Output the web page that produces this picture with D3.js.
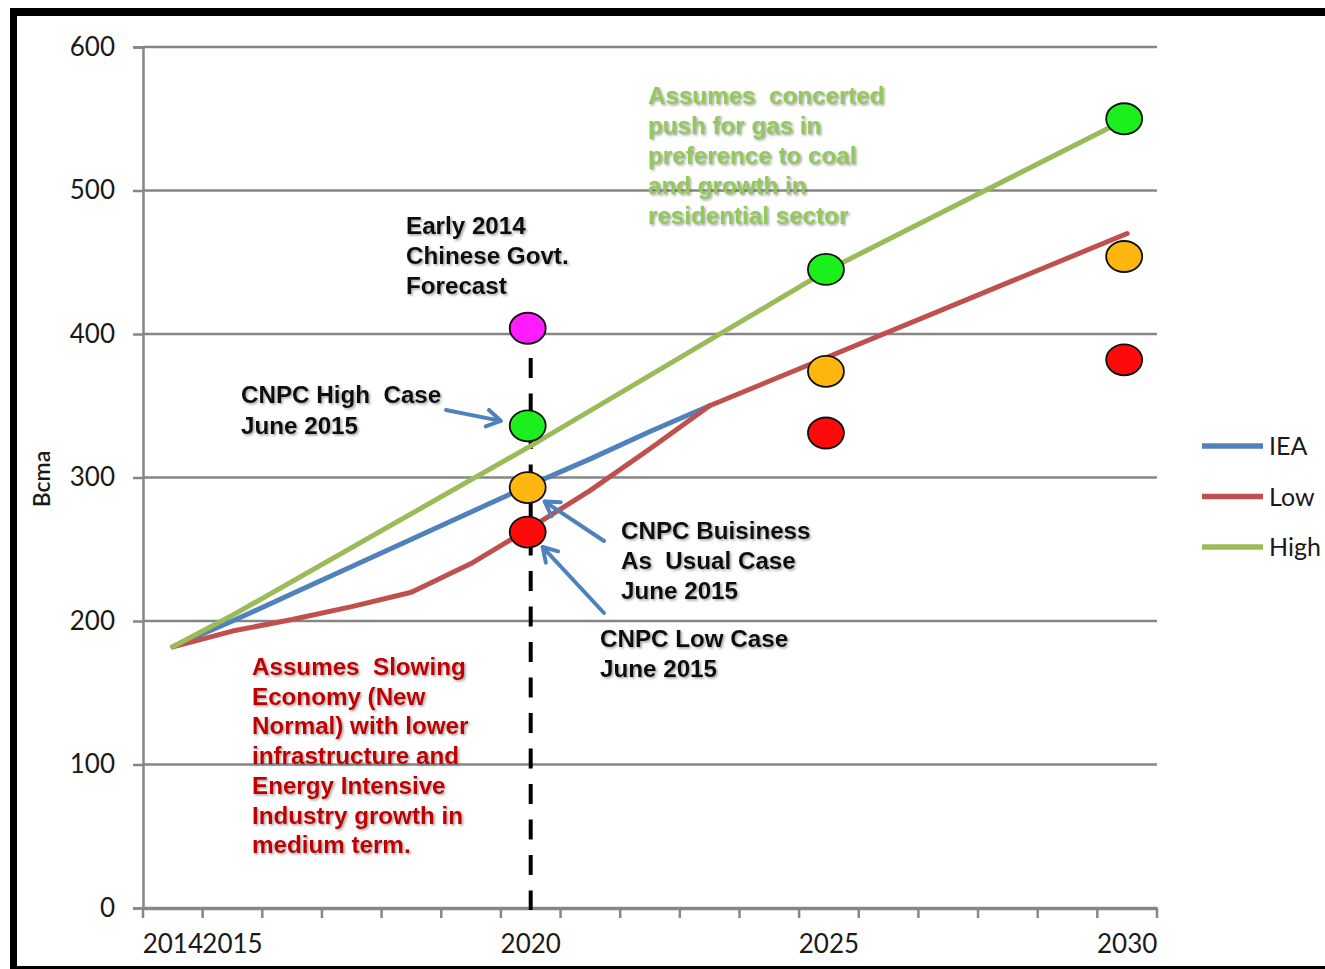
<!DOCTYPE html>
<html>
<head>
<meta charset="utf-8">
<script src="https://cdn.jsdelivr.net/npm/d3@7"></script>
<style>
  html, body { margin: 0; padding: 0; background: #fff; }
  svg { display: block; }
</style>
</head>
<body>
<svg id="chart" width="1325" height="969"></svg>
<script>
// ---------- data ----------
const years = d3.range(2014, 2031);               // category axis 2014..2030
const labelledYears = [2014, 2015, 2020, 2025, 2030];
const yTicks = [0, 100, 200, 300, 400, 500, 600];

// line series (vertices)
const ieaYears  = [2014, 2015, 2016, 2017, 2018, 2019, 2020, 2021, 2022, 2023];
const ieaValues = [182, 200, 219, 238, 257, 276, 295, 313, 332, 350];
const lowYears  = [2014, 2015, 2016, 2017, 2018, 2019, 2020, 2021, 2022, 2023, 2030];
const lowValues = [182, 193, 201, 210, 220, 240, 265, 291, 320, 350, 470];
const highYears  = [2014, 2015, 2020, 2025, 2030];
const highValues = [182, 204, 322, 445, 550];

// forecast points
const pointYears   = [2020, 2025, 2030];
const cnpcHigh     = [336, 445, 550];
const cnpcBAU      = [293, 374, 454];
const cnpcLow      = [262, 331, 382];
const govtYear     = [2020];
const govtForecast = [404];

const seriesNames  = ["IEA", "Low", "High"];
const seriesColors = ["#4f81bd", "#c0504d", "#9bbb59"];

// ---------- layout ----------
const svg = d3.select("#chart");
const W = 1325, H = 969;
const pLeft = 143, pRight = 1157, pTop = 47, pBottom = 908;

const x = d3.scaleBand().domain(years).range([pLeft, pRight]).paddingInner(0).paddingOuter(0);
const xc = d => x(d) + x.bandwidth() / 2;
const y = d3.scaleLinear().domain([0, 600]).range([pBottom, pTop]);

const defs = svg.append("defs");
const sh = defs.append("filter").attr("id", "shadow").attr("x", "-10%").attr("y", "-10%").attr("width", "120%").attr("height", "130%");
sh.append("feDropShadow").attr("dx", 1.5).attr("dy", 1.5).attr("stdDeviation", 1.2)
  .attr("flood-color", "#555").attr("flood-opacity", 0.55);

// frame
svg.append("rect").attr("x", 10).attr("y", 8).attr("width", W - 10).attr("height", 8).attr("fill", "#000");
svg.append("rect").attr("x", 10).attr("y", 8).attr("width", 7).attr("height", H - 8).attr("fill", "#000");
svg.append("rect").attr("x", 10).attr("y", 966).attr("width", W - 10).attr("height", 3).attr("fill", "#000");

// gridlines + y axis
const yAxis = d3.axisLeft(y).tickValues(yTicks).tickSize(10).tickPadding(18).tickFormat(d3.format("d"));
const gy = svg.append("g").attr("transform", `translate(${pLeft},0)`).call(yAxis);
gy.select(".domain").attr("stroke", "#868686").attr("stroke-width", 2.5);
gy.selectAll(".tick line").attr("stroke", "#868686").attr("stroke-width", 2.5);
gy.selectAll(".tick text").attr("font-family", "Lato, 'Open Sans', sans-serif").attr("font-size", 26).attr("fill", "#1a1a1a");

svg.append("g").selectAll("line").data(yTicks.filter(d => d > 0)).join("line")
  .attr("x1", pLeft).attr("x2", pRight).attr("y1", d => y(d)).attr("y2", d => y(d))
  .attr("stroke", "#868686").attr("stroke-width", 2.5);

// x axis
const xAxis = d3.axisBottom(x).tickSize(0).tickPadding(27)
  .tickFormat(d => labelledYears.includes(d) ? d : "");
const gx = svg.append("g").attr("transform", `translate(0,${pBottom})`).call(xAxis);
gx.select(".domain").attr("stroke", "#868686").attr("stroke-width", 3.5);
gx.selectAll(".tick text").attr("font-family", "Lato, 'Open Sans', sans-serif").attr("font-size", 26).attr("fill", "#1a1a1a");
// boundary ticks
svg.append("g").selectAll("line").data(years.map(d => x(d)).concat([pRight])).join("line")
  .attr("x1", d => d).attr("x2", d => d).attr("y1", pBottom).attr("y2", pBottom + 10)
  .attr("stroke", "#868686").attr("stroke-width", 2.5);

// dashed 2020 line
svg.append("line").attr("x1", xc(2020)).attr("x2", xc(2020)).attr("y1", 358).attr("y2", pBottom + 2)
  .attr("stroke", "#000").attr("stroke-width", 4).attr("stroke-dasharray", "20,15.5");

// lines
const line = d3.line().x(d => xc(d[0])).y(d => y(d[1]));
const lineData = [
  d3.zip(ieaYears, ieaValues),
  d3.zip(lowYears, lowValues),
  d3.zip(highYears, highValues)
];
svg.append("g").selectAll("path").data(lineData).join("path")
  .attr("d", line).attr("fill", "none")
  .attr("stroke", (d, i) => seriesColors[i]).attr("stroke-width", 5)
  .attr("stroke-linejoin", "round").attr("stroke-linecap", "round");

// legend
const lg = svg.append("g");
seriesNames.forEach((n, i) => {
  const yy = 446 + i * 50.5;
  lg.append("line").attr("x1", 1202).attr("x2", 1263).attr("y1", yy).attr("y2", yy)
    .attr("stroke", seriesColors[i]).attr("stroke-width", 5.5);
  lg.append("text").attr("x", 1269).attr("y", yy + 9).text(n)
    .attr("font-family", "Lato, 'Open Sans', sans-serif").attr("font-size", 25).attr("fill", "#1a1a1a");
});

// y label
svg.append("text").attr("transform", "translate(50,479) rotate(-90)").attr("text-anchor", "middle")
  .attr("font-family", "Lato, 'Open Sans', sans-serif").attr("font-size", 23).attr("font-weight", 600)
  .attr("fill", "#1a1a1a").text("Bcma");

// text annotations
function block(lines, x0, y0, color, dy) {
  const t = svg.append("text").attr("x", x0).attr("y", y0)
    .attr("font-family", "'Liberation Sans', Arial, sans-serif").attr("font-weight", "bold")
    .attr("font-size", 24.2).attr("fill", color).attr("filter", "url(#shadow)")
    .style("white-space", "pre");
  lines.forEach((l, i) => t.append("tspan").attr("x", x0).attr("y", y0 + i * dy).text(l));
}
block(["Assumes  concerted", "push for gas in", "preference to coal", "and growth in", "residential sector"], 648, 104, "#92c95a", 30);
block(["Early 2014", "Chinese Govt.", "Forecast"], 406, 234, "#111", 30);
block(["CNPC High  Case", "June 2015"], 241, 403, "#111", 31);
block(["CNPC Buisiness", "As  Usual Case", "June 2015"], 621, 539, "#111", 30);
block(["CNPC Low Case", "June 2015"], 600, 647, "#111", 30);
block(["Assumes  Slowing", "Economy (New", "Normal) with lower", "infrastructure and", "Energy Intensive", "Industry growth in", "medium term."], 252, 675, "#c00000", 29.7);

// arrows (tips anchored at forecast points for 2020)
const arrowColor = "#4f81bd";
function arrow(x1, y1, x2, y2) {
  const g = svg.append("g").attr("stroke", arrowColor).attr("stroke-width", 4).attr("stroke-linecap", "round").attr("fill", "none");
  g.append("line").attr("x1", x1).attr("y1", y1).attr("x2", x2).attr("y2", y2);
  const a = Math.atan2(y2 - y1, x2 - x1), L = 16, s = 0.55;
  g.append("path").attr("d",
    `M${x2 - L * Math.cos(a - s)},${y2 - L * Math.sin(a - s)} L${x2},${y2} L${x2 - L * Math.cos(a + s)},${y2 - L * Math.sin(a + s)}`)
    .attr("stroke-linejoin", "round");
}
const px = xc(2020) - 2;
arrow(446, 410, px - 28, y(cnpcHigh[0]) - 5);
arrow(604, 541, px + 16, y(cnpcBAU[0]) + 14);
arrow(604, 613, px + 14, y(cnpcLow[0]) + 15);

// forecast points
const pts = [];
pointYears.forEach((yr, i) => {
  pts.push({ year: yr, v: cnpcHigh[i], c: "#1cf01c" });
  pts.push({ year: yr, v: cnpcBAU[i], c: "#ffb60f" });
  pts.push({ year: yr, v: cnpcLow[i], c: "#ff0a0a" });
});
govtYear.forEach((yr, i) => pts.push({ year: yr, v: govtForecast[i], c: "#ff1cff" }));
svg.append("g").selectAll("ellipse").data(pts).join("ellipse")
  .attr("cx", d => xc(d.year) - 3).attr("cy", d => y(d.v))
  .attr("rx", 18).attr("ry", 15.5)
  .attr("fill", d => d.c).attr("stroke", "#111").attr("stroke-width", 1.8);
</script>
</body>
</html>
